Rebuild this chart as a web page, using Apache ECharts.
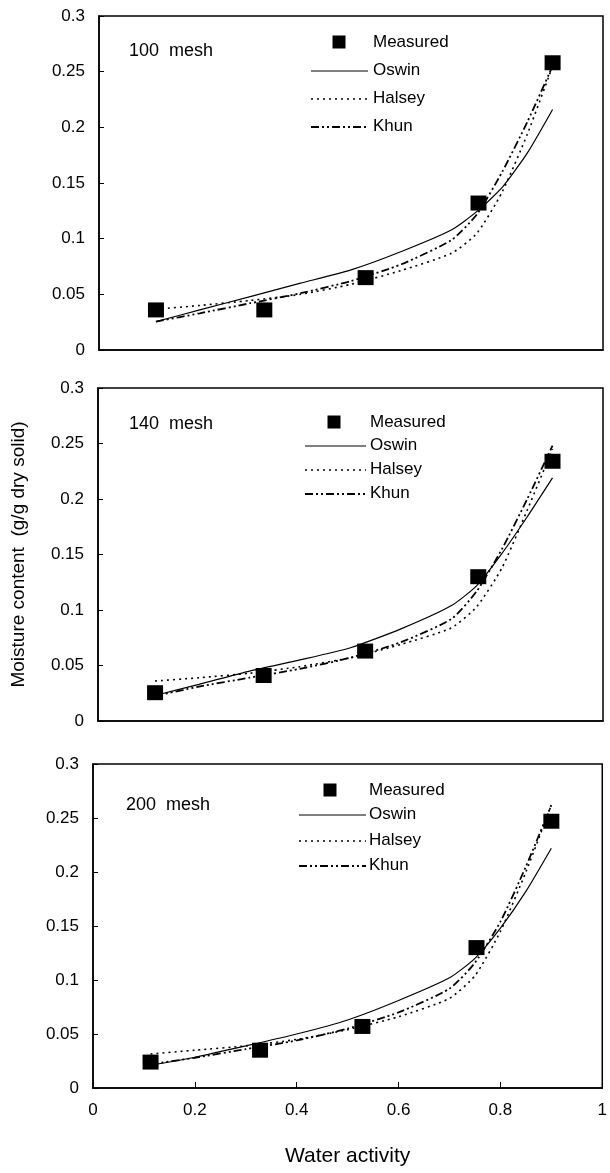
<!DOCTYPE html>
<html>
<head>
<meta charset="utf-8">
<title>Moisture sorption isotherms</title>
<script src="https://cdn.jsdelivr.net/npm/echarts@6/dist/echarts.min.js"></script>
<style>
  html, body { margin: 0; padding: 0; background: #fff; }
  #chart { width: 610px; height: 1173px; }
</style>
</head>
<body>
<div id="chart"></div>
<script>
// water activity of the measured points (salt solutions)
var waterActivity = [0.113, 0.328, 0.529, 0.753, 0.9];
// water activity where the model curves were read
var curveAw = [0.113, 0.2, 0.3, 0.4, 0.5, 0.6, 0.7, 0.75, 0.8, 0.85, 0.9];

var meshNames = ['100  mesh', '140  mesh', '200  mesh'];

var measured100 = [0.036, 0.036, 0.065, 0.132, 0.258];
var oswin100 = [0.0255, 0.036, 0.048, 0.060, 0.072, 0.0885, 0.108, 0.1245, 0.146, 0.177, 0.216];
var halsey100 = [0.0366, 0.040, 0.0445, 0.050, 0.059, 0.0715, 0.087, 0.105, 0.142, 0.194, 0.255];
var khun100 = [0.0255, 0.033, 0.042, 0.051, 0.062, 0.077, 0.099, 0.122, 0.160, 0.205, 0.255];

var measured140 = [0.0255, 0.041, 0.063, 0.130, 0.234];
var oswin140 = [0.023, 0.033, 0.045, 0.055, 0.066, 0.083, 0.104, 0.122, 0.151, 0.184, 0.219];
var halsey140 = [0.036, 0.039, 0.043, 0.049, 0.057, 0.069, 0.084, 0.103, 0.138, 0.190, 0.245];
var khun140 = [0.0225, 0.031, 0.039, 0.047, 0.057, 0.071, 0.092, 0.117, 0.155, 0.200, 0.248];

var measured200 = [0.024, 0.035, 0.057, 0.130, 0.247];
var oswin200 = [0.021, 0.0285, 0.039, 0.050, 0.063, 0.081, 0.102, 0.120, 0.148, 0.182, 0.222];
var halsey200 = [0.0315, 0.035, 0.039, 0.045, 0.054, 0.066, 0.083, 0.104, 0.145, 0.200, 0.262];
var khun200 = [0.022, 0.028, 0.036, 0.044, 0.055, 0.070, 0.092, 0.116, 0.154, 0.205, 0.262];

var yTicks = { min: 0, max: 0.3, interval: 0.05 };
var xTicks = { min: 0, max: 1, interval: 0.2 };

var FONT = "'Liberation Sans', Arial, sans-serif";

function pairs(xs, ys) {
  return xs.map(function (x, i) { return [x, ys[i]]; });
}

// panel boxes
var grids = [
  { left: 99, top: 16, width: 504, height: 334 },
  { left: 98, top: 388, width: 505, height: 333 },
  { left: 93, top: 764, width: 510, height: 324 }
];
var panels = [
  { measured: measured100, oswin: oswin100, halsey: halsey100, khun: khun100 },
  { measured: measured140, oswin: oswin140, halsey: halsey140, khun: khun140 },
  { measured: measured200, oswin: oswin200, halsey: halsey200, khun: khun200 }
];
// legend block placement per panel
var legendPos = [
  { sq: 339, rows: [42, 70, 98, 126], l0: 311, l1: 368, tx: 373, title: [129, 52] },
  { sq: 334, rows: [422, 445, 469, 493], l0: 305, l1: 366, tx: 370, title: [129, 425] },
  { sq: 330, rows: [790, 814, 840, 865], l0: 299, l1: 366, tx: 369, title: [126, 806] }
];

var styles = {
  oswin: { type: 'solid', width: 1.2 },
  halsey: { type: [2, 4], width: 1.6 },
  khun: { type: [8, 3, 2, 3, 2, 3], width: 1.8 }
};

var chart = echarts.init(document.getElementById('chart'));

var xAxes = [], yAxes = [], series = [], graphics = [];

grids.forEach(function (g, i) {
  var last = i === grids.length - 1;
  xAxes.push({
    type: 'value', gridIndex: i,
    min: xTicks.min, max: xTicks.max, interval: xTicks.interval,
    axisLine: { show: true, onZero: false, lineStyle: { color: '#000', width: 1.5 } },
    axisTick: { show: last, inside: true, length: 6, lineStyle: { color: '#000' } },
    axisLabel: { show: last, color: '#000', fontSize: 17, fontFamily: FONT, margin: 14 },
    splitLine: { show: false },
    name: last ? 'Water activity' : '',
    nameLocation: 'middle', nameGap: 58,
    nameTextStyle: { color: '#000', fontSize: 21, fontFamily: FONT }
  });
  yAxes.push({
    type: 'value', gridIndex: i,
    min: yTicks.min, max: yTicks.max, interval: yTicks.interval,
    axisLine: { show: true, lineStyle: { color: '#000', width: 1.5 } },
    axisTick: { show: true, inside: true, length: 5, lineStyle: { color: '#000' } },
    axisLabel: { color: '#000', fontSize: 17, fontFamily: FONT, margin: 14 },
    splitLine: { show: false },
    name: i === 1 ? 'Moisture content  (g/g dry solid)' : '',
    nameLocation: 'middle', nameGap: 70,
    nameTextStyle: { color: '#000', fontSize: 19, fontFamily: FONT }
  });

  var p = panels[i];
  ['oswin', 'halsey', 'khun'].forEach(function (key) {
    series.push({
      name: key.charAt(0).toUpperCase() + key.slice(1),
      type: 'line', xAxisIndex: i, yAxisIndex: i,
      data: pairs(curveAw, p[key]),
      smooth: 0.2,
      showSymbol: false, silent: true,
      lineStyle: { color: '#000', width: styles[key].width, type: styles[key].type },
      z: 2
    });
  });
  series.push({
    name: 'Measured', type: 'scatter', xAxisIndex: i, yAxisIndex: i,
    data: pairs(waterActivity, p.measured),
    symbol: 'rect', symbolSize: [16, 15],
    itemStyle: { color: '#000', opacity: 1 }, z: 5
  });

  // panel label and legend
  var lp = legendPos[i];
  var txt = { fill: '#000', fontSize: 17, fontFamily: FONT, verticalAlign: 'middle' };
  graphics.push({
    type: 'text', left: lp.title[0], top: lp.title[1] - 10,
    style: { text: meshNames[i], fill: '#000', fontSize: 18, fontFamily: FONT }
  });
  graphics.push({
    type: 'rect', shape: { x: lp.sq - 6.5, y: lp.rows[0] - 6.5, width: 13, height: 13 },
    style: { fill: '#000' }
  });
  var labels = ['Measured', 'Oswin', 'Halsey', 'Khun'];
  var keys = [null, 'oswin', 'halsey', 'khun'];
  labels.forEach(function (lab, k) {
    graphics.push({
      type: 'text', x: lp.tx, y: lp.rows[k],
      style: Object.assign({ text: lab }, txt)
    });
    if (keys[k]) {
      graphics.push({
        type: 'line',
        shape: { x1: lp.l0, y1: lp.rows[k] + 1, x2: lp.l1, y2: lp.rows[k] + 1 },
        style: {
          stroke: '#000', lineWidth: styles[keys[k]].width,
          lineDash: styles[keys[k]].type === 'solid' ? null : styles[keys[k]].type
        }
      });
    }
  });
});

var option = {
  backgroundColor: '#fff',
  animation: false,
  grid: grids.map(function (g) {
    return Object.assign({ show: true, borderColor: '#000', borderWidth: 1.5, backgroundColor: 'transparent' }, g);
  }),
  xAxis: xAxes,
  yAxis: yAxes,
  series: series,
  graphic: graphics
};

chart.setOption(option);
</script>
</body>
</html>
